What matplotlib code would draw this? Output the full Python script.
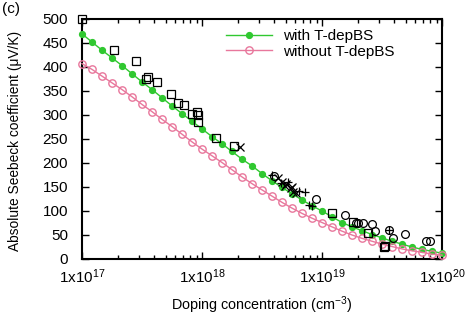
import numpy as np
import matplotlib
matplotlib.use("Agg")
import matplotlib.pyplot as plt
from matplotlib.ticker import LogLocator, FixedLocator, NullFormatter, MultipleLocator

plt.rcParams['font.family'] = ['Liberation Sans', 'DejaVu Sans']
plt.rcParams['mathtext.default'] = 'regular'

# log10 of doping concentration for the calculated curves
log_n_calc = [17 + k / 12 for k in range(37)]
s_with = [469, 452, 435, 419, 403, 386, 369, 353, 336, 319, 303, 287, 271,
          255, 240, 224, 208, 194, 178, 163, 149, 136, 123, 111, 100, 88,
          76, 67, 59, 51, 44, 37, 31, 25, 20, 16, 12]
s_without = [407, 395, 381, 367, 353, 338, 322, 307, 291, 276, 260, 244, 229,
             215, 201, 186, 171, 157, 144, 131, 118, 106, 95, 85, 76, 67,
             58, 50, 43, 37, 31, 26, 21, 17, 14, 10, 8]

# experimental data (log10 N, S)
sq_logn = [17.0, 17.27, 17.447, 17.53, 17.55, 17.622, 17.739, 17.803, 17.853,
           17.914, 17.956, 17.964, 17.969, 18.117, 18.267, 19.086, 19.261,
           19.381, 19.517, 19.525]
sq_s = [499, 435, 412, 375, 380, 369, 344, 324, 321, 303, 306, 299, 286, 253,
        235, 96, 78, 55, 26, 27]
x_logn = [18.317, 18.633, 18.67, 18.69, 18.74, 18.76, 18.78, 18.70, 18.75]
x_s = [233, 168, 160, 152, 147, 140, 137, 156, 150]
p_logn = [18.583, 18.66, 18.72, 18.81, 18.86, 18.89, 18.92, 19.56]
p_s = [175, 158, 161, 142, 140, 112, 111, 60]
c_logn = [18.60, 18.948, 19.19, 19.28, 19.30, 19.34, 19.42, 19.44, 19.56,
          19.59, 19.69, 19.87, 19.90]
c_s = [172, 126, 92, 76, 76, 74, 72, 58, 60, 43, 53, 38, 38]

x_ticks = [1e17, 1e18, 1e19, 1e20]
x_ticklabels = ['1x10$^{17}$', '1x10$^{18}$', '1x10$^{19}$', '1x10$^{20}$']

green = '#30c830'
pink = '#e8779c'

fig = plt.figure(figsize=(4.71, 3.30), dpi=100)
ax = fig.add_axes([82 / 471, 1 - 259 / 330, 360 / 471, 240 / 330])

n_calc = [10 ** v for v in log_n_calc]
ax.plot(n_calc, s_with, '-o', color=green, lw=1.0, ms=4.2, mfc=green,
        mec=green, label='with T-depBS', zorder=3, clip_on=False)
ax.plot(n_calc, s_without, '-o', color=pink, lw=1.0, ms=5.3, mfc='none',
        mec=pink, mew=1.0, label='without T-depBS', zorder=3, clip_on=False)

ax.plot([10 ** v for v in sq_logn], sq_s, 's', ms=5.2, mfc='none', mec='black',
        mew=0.9, zorder=4, clip_on=False)
ax.plot([10 ** v for v in x_logn], x_s, 'x', ms=5.2, color='black', mew=0.9,
        zorder=4)
ax.plot([10 ** v for v in p_logn], p_s, '+', ms=5.8, color='black', mew=0.9,
        zorder=4)
ax.plot([10 ** v for v in c_logn], c_s, 'o', ms=5.6, mfc='none', mec='black',
        mew=0.9, zorder=4)

ax.set_xscale('log')
ax.set_xlim(1e17, 1e20)
ax.set_ylim(0, 500)
ax.xaxis.set_major_locator(FixedLocator(x_ticks))
ax.set_xticklabels(x_ticklabels)
ax.xaxis.set_minor_locator(LogLocator(base=10, subs=np.arange(2, 10)))
ax.xaxis.set_minor_formatter(NullFormatter())
ax.yaxis.set_major_locator(MultipleLocator(50))

for s in ax.spines.values():
    s.set_linewidth(1.5)
ax.tick_params(which='both', direction='in', top=True, right=True,
               labelsize=11, width=1.0)
ax.tick_params(which='major', length=5)
ax.tick_params(which='minor', length=3)
ax.tick_params(axis='x', which='major', pad=6)
ax.tick_params(axis='y', which='major', pad=10)

ax.set_xlabel('Doping concentration (cm$^{-3}$)', fontsize=10.4)
ax.xaxis.set_label_coords(0.5, -0.148)
ax.set_ylabel('Absolute Seebeck coefficient (μV/K)', fontsize=9.9)
ax.yaxis.set_label_coords(-0.168, 0.49)

leg = ax.legend(loc='upper left', frameon=False, fontsize=11,
                handlelength=3.0, handletextpad=0.7, labelspacing=0.12,
                bbox_to_anchor=((230 - 82) / 360 - 0.01, 1 - 10 / 240),
                borderaxespad=0.0, borderpad=0.0)

fig.text(0.004, 0.995, '(c)', fontsize=11, va='top', ha='left')

fig.savefig('out.png', dpi=100)
